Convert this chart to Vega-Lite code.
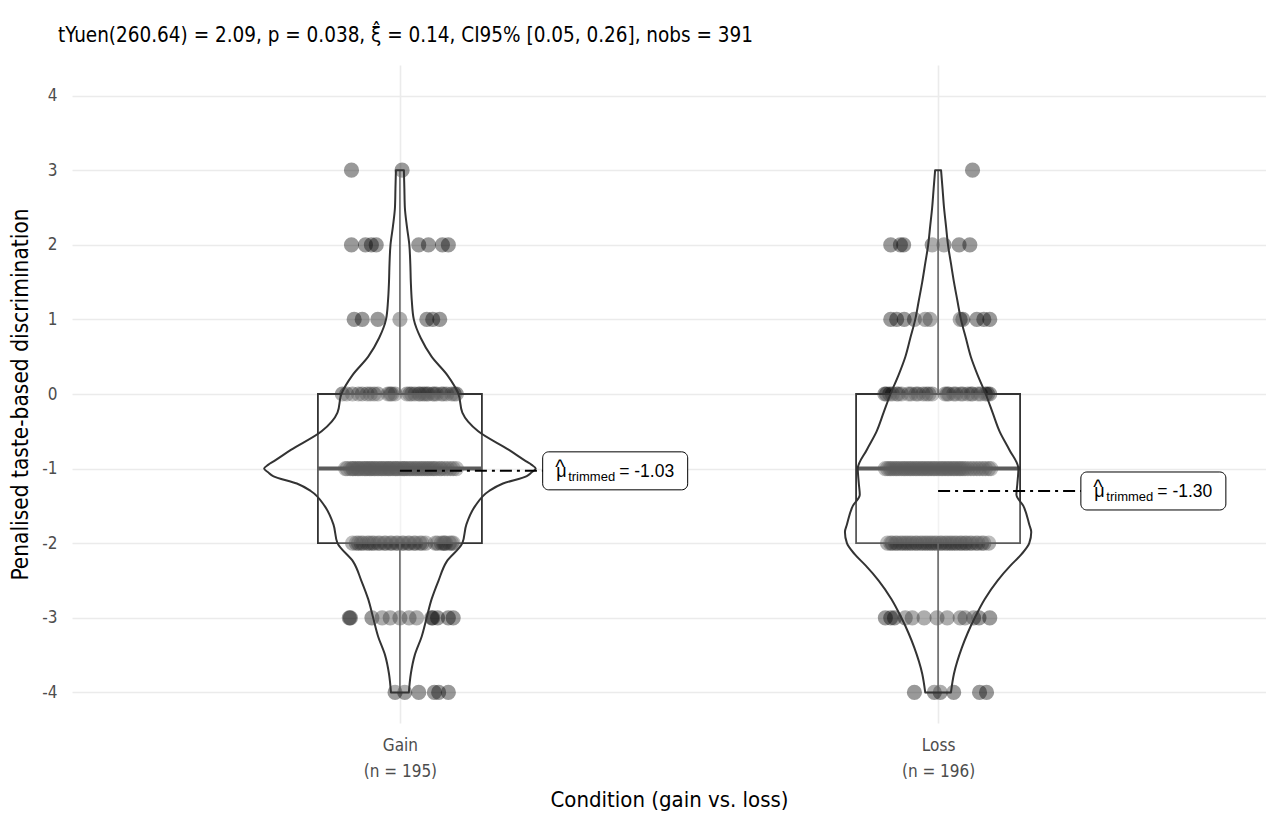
{
  "$schema": "https://vega.github.io/schema/vega-lite/v6.json",
  "autosize": {"type": "none"},
  "padding": {"left": 72, "top": 65, "right": 0, "bottom": 95},
  "width": 1194,
  "height": 658,
  "background": "white",
  "config": {
    "font": "Liberation Sans Narrow, DejaVu Sans Condensed, Roboto Condensed, sans-serif",
    "view": {"stroke": null},
    "axis": {"labelFont": "Liberation Sans Narrow, DejaVu Sans Condensed, sans-serif", "titleFont": "Liberation Sans Narrow, DejaVu Sans Condensed, sans-serif"}
  },
  "title": {
    "text": "tYuen(260.64) = 2.09, p = 0.038, ξ̂ = 0.14, CI95% [0.05, 0.26], nobs = 391",
    "anchor": "start",
    "frame": "group",
    "fontSize": 20.5,
    "fontWeight": "normal",
    "color": "#000000",
    "offset": 19,
    "dx": -14
  },
  "datasets": {
    "pts": [
      {"x":0.910,"y":3},{"x":1.004,"y":3},
      {"x":0.910,"y":2},{"x":0.936,"y":2},{"x":0.947,"y":2},{"x":0.956,"y":2},{"x":1.035,"y":2},{"x":1.053,"y":2},{"x":1.079,"y":2},{"x":1.090,"y":2},
      {"x":0.915,"y":1},{"x":0.930,"y":1},{"x":0.959,"y":1},{"x":1.000,"y":1},{"x":1.050,"y":1},{"x":1.061,"y":1},{"x":1.074,"y":1},
      {"x":0.893,"y":0},{"x":0.901,"y":0},{"x":0.912,"y":0},{"x":0.923,"y":0},{"x":0.930,"y":0},{"x":0.939,"y":0},{"x":0.945,"y":0},{"x":0.952,"y":0},
      {"x":0.959,"y":0},{"x":0.978,"y":0},{"x":0.982,"y":0},{"x":0.985,"y":0},{"x":0.991,"y":0},{"x":1.013,"y":0},{"x":1.018,"y":0},{"x":1.022,"y":0},{"x":1.028,"y":0},
      {"x":1.035,"y":0},{"x":1.037,"y":0},{"x":1.042,"y":0},{"x":1.046,"y":0},{"x":1.050,"y":0},{"x":1.053,"y":0},
      {"x":1.061,"y":0},{"x":1.064,"y":0},{"x":1.068,"y":0},{"x":1.077,"y":0},{"x":1.081,"y":0},{"x":1.087,"y":0},
      {"x":1.096,"y":0},{"x":1.101,"y":0},{"x":1.105,"y":0},
      {"x":0.899,"y":-1},{"x":0.902,"y":-1},{"x":0.908,"y":-1},{"x":0.912,"y":-1},{"x":0.913,"y":-1},{"x":0.917,"y":-1},{"x":0.921,"y":-1},{"x":0.923,"y":-1},{"x":0.926,"y":-1},{"x":0.930,"y":-1},
      {"x":0.934,"y":-1},{"x":0.936,"y":-1},{"x":0.939,"y":-1},{"x":0.943,"y":-1},{"x":0.945,"y":-1},{"x":0.948,"y":-1},{"x":0.952,"y":-1},{"x":0.954,"y":-1},{"x":0.958,"y":-1},{"x":0.961,"y":-1},
      {"x":0.965,"y":-1},{"x":0.967,"y":-1},{"x":0.971,"y":-1},{"x":0.974,"y":-1},{"x":0.978,"y":-1},{"x":0.980,"y":-1},{"x":0.983,"y":-1},{"x":0.987,"y":-1},{"x":0.991,"y":-1},{"x":0.993,"y":-1},
      {"x":0.996,"y":-1},{"x":1.000,"y":-1},{"x":1.004,"y":-1},{"x":1.007,"y":-1},{"x":1.009,"y":-1},{"x":1.013,"y":-1},{"x":1.017,"y":-1},{"x":1.020,"y":-1},{"x":1.024,"y":-1},{"x":1.028,"y":-1},
      {"x":1.031,"y":-1},{"x":1.035,"y":-1},{"x":1.039,"y":-1},{"x":1.042,"y":-1},{"x":1.046,"y":-1},{"x":1.050,"y":-1},{"x":1.053,"y":-1},{"x":1.057,"y":-1},{"x":1.061,"y":-1},{"x":1.064,"y":-1},
      {"x":1.068,"y":-1},{"x":1.074,"y":-1},{"x":1.077,"y":-1},{"x":1.083,"y":-1},{"x":1.088,"y":-1},{"x":1.094,"y":-1},{"x":1.099,"y":-1},{"x":1.105,"y":-1},
      {"x":0.912,"y":-2},{"x":0.919,"y":-2},{"x":0.923,"y":-2},{"x":0.928,"y":-2},{"x":0.932,"y":-2},{"x":0.939,"y":-2},{"x":0.943,"y":-2},
      {"x":0.948,"y":-2},{"x":0.952,"y":-2},{"x":0.959,"y":-2},{"x":0.963,"y":-2},{"x":0.971,"y":-2},{"x":0.974,"y":-2},
      {"x":0.982,"y":-2},{"x":0.985,"y":-2},{"x":0.993,"y":-2},{"x":0.996,"y":-2},{"x":1.004,"y":-2},{"x":1.007,"y":-2},{"x":1.015,"y":-2},
      {"x":1.018,"y":-2},{"x":1.026,"y":-2},{"x":1.029,"y":-2},{"x":1.037,"y":-2},{"x":1.041,"y":-2},{"x":1.048,"y":-2},{"x":1.066,"y":-2},
      {"x":1.070,"y":-2},{"x":1.077,"y":-2},{"x":1.081,"y":-2},{"x":1.085,"y":-2},{"x":1.092,"y":-2},{"x":1.096,"y":-2},{"x":1.099,"y":-2},{"x":1.083,"y":-2},
      {"x":0.906,"y":-3},{"x":0.908,"y":-3},{"x":0.948,"y":-3},{"x":0.967,"y":-3},{"x":0.982,"y":-3},{"x":1.000,"y":-3},{"x":1.017,"y":-3},{"x":1.031,"y":-3},{"x":1.059,"y":-3},{"x":1.061,"y":-3},
      {"x":1.090,"y":-3},{"x":1.099,"y":-3},{"x":1.070,"y":-3},
      {"x":0.991,"y":-4},{"x":1.009,"y":-4},{"x":1.035,"y":-4},{"x":1.064,"y":-4},{"x":1.072,"y":-4},{"x":1.090,"y":-4},
      {"x":2.064,"y":3},
      {"x":1.912,"y":2},{"x":1.930,"y":2},{"x":1.936,"y":2},{"x":1.989,"y":2},{"x":2.011,"y":2},{"x":2.039,"y":2},{"x":2.059,"y":2},
      {"x":1.912,"y":1},{"x":1.923,"y":1},{"x":1.937,"y":1},{"x":1.956,"y":1},{"x":1.976,"y":1},{"x":1.985,"y":1},{"x":2.041,"y":1},{"x":2.046,"y":1},{"x":2.072,"y":1},{"x":2.085,"y":1},{"x":2.096,"y":1},
      {"x":1.901,"y":0},{"x":1.904,"y":0},{"x":1.910,"y":0},{"x":1.915,"y":0},{"x":1.923,"y":0},{"x":1.926,"y":0},{"x":1.932,"y":0},{"x":1.945,"y":0},{"x":1.950,"y":0},
      {"x":1.959,"y":0},{"x":1.963,"y":0},{"x":1.972,"y":0},{"x":1.978,"y":0},{"x":1.983,"y":0},{"x":1.989,"y":0},{"x":2.013,"y":0},{"x":2.017,"y":0},
      {"x":2.020,"y":0},{"x":2.029,"y":0},{"x":2.033,"y":0},{"x":2.042,"y":0},{"x":2.046,"y":0},{"x":2.055,"y":0},{"x":2.061,"y":0},
      {"x":2.064,"y":0},{"x":2.074,"y":0},{"x":2.079,"y":0},{"x":2.088,"y":0},{"x":2.092,"y":0},{"x":2.096,"y":0},
      {"x":1.902,"y":-1},{"x":1.906,"y":-1},{"x":1.910,"y":-1},{"x":1.913,"y":-1},{"x":1.917,"y":-1},{"x":1.921,"y":-1},{"x":1.924,"y":-1},{"x":1.928,"y":-1},{"x":1.932,"y":-1},{"x":1.936,"y":-1},
      {"x":1.939,"y":-1},{"x":1.943,"y":-1},{"x":1.947,"y":-1},{"x":1.950,"y":-1},{"x":1.954,"y":-1},{"x":1.958,"y":-1},{"x":1.961,"y":-1},{"x":1.965,"y":-1},{"x":1.969,"y":-1},{"x":1.972,"y":-1},
      {"x":1.976,"y":-1},{"x":1.980,"y":-1},{"x":1.983,"y":-1},{"x":1.987,"y":-1},{"x":1.991,"y":-1},{"x":1.994,"y":-1},{"x":1.998,"y":-1},{"x":2.002,"y":-1},{"x":2.006,"y":-1},{"x":2.009,"y":-1},
      {"x":2.013,"y":-1},{"x":2.017,"y":-1},{"x":2.020,"y":-1},{"x":2.024,"y":-1},{"x":2.028,"y":-1},{"x":2.031,"y":-1},{"x":2.035,"y":-1},{"x":2.039,"y":-1},{"x":2.042,"y":-1},{"x":2.046,"y":-1},
      {"x":2.050,"y":-1},{"x":2.055,"y":-1},{"x":2.061,"y":-1},{"x":2.066,"y":-1},{"x":2.072,"y":-1},{"x":2.077,"y":-1},{"x":2.083,"y":-1},{"x":2.088,"y":-1},{"x":2.094,"y":-1},{"x":2.098,"y":-1},
      {"x":1.906,"y":-2},{"x":1.912,"y":-2},{"x":1.915,"y":-2},{"x":1.921,"y":-2},{"x":1.924,"y":-2},{"x":1.930,"y":-2},{"x":1.934,"y":-2},
      {"x":1.939,"y":-2},{"x":1.943,"y":-2},{"x":1.948,"y":-2},{"x":1.952,"y":-2},{"x":1.958,"y":-2},{"x":1.961,"y":-2},
      {"x":1.967,"y":-2},{"x":1.971,"y":-2},{"x":1.976,"y":-2},{"x":1.980,"y":-2},{"x":1.985,"y":-2},{"x":1.989,"y":-2},{"x":1.994,"y":-2},
      {"x":1.998,"y":-2},{"x":2.004,"y":-2},{"x":2.007,"y":-2},{"x":2.013,"y":-2},{"x":2.017,"y":-2},{"x":2.022,"y":-2},{"x":2.026,"y":-2},
      {"x":2.031,"y":-2},{"x":2.035,"y":-2},{"x":2.041,"y":-2},{"x":2.044,"y":-2},{"x":2.050,"y":-2},{"x":2.053,"y":-2},
      {"x":2.059,"y":-2},{"x":2.063,"y":-2},{"x":2.070,"y":-2},{"x":2.074,"y":-2},{"x":2.081,"y":-2},{"x":2.085,"y":-2},{"x":2.094,"y":-2},
      {"x":1.902,"y":-3},{"x":1.912,"y":-3},{"x":1.919,"y":-3},{"x":1.939,"y":-3},{"x":1.952,"y":-3},{"x":1.974,"y":-3},{"x":1.998,"y":-3},{"x":2.017,"y":-3},{"x":2.041,"y":-3},{"x":2.050,"y":-3},
      {"x":2.066,"y":-3},{"x":2.076,"y":-3},{"x":2.096,"y":-3},
      {"x":1.956,"y":-4},{"x":1.993,"y":-4},{"x":2.004,"y":-4},{"x":2.029,"y":-4},{"x":2.077,"y":-4},{"x":2.090,"y":-4}
    ],
    "box": [
      {"g":"Gain","x":1,"q1":-2,"q3":0,"med":-1,"lo":-4,"hi":3,"tm":-1.03,"lx":1.4,"lab":"= -1.03"},
      {"g":"Loss","x":2,"q1":-2,"q3":0,"med":-1,"lo":-4,"hi":3,"tm":-1.30,"lx":2.4,"lab":"= -1.30"}
    ],
    "vioG": [
      {"y":3,"lo":0.9926,"hi":1.0074},
      {"y":2.75,"lo":0.9917,"hi":1.0083},
      {"y":2.5,"lo":0.9908,"hi":1.0092},
      {"y":2.25,"lo":0.9871,"hi":1.0129},
      {"y":2,"lo":0.9825,"hi":1.0175},
      {"y":1.75,"lo":0.9807,"hi":1.0193},
      {"y":1.5,"lo":0.9797,"hi":1.0203},
      {"y":1.25,"lo":0.9779,"hi":1.0221},
      {"y":1,"lo":0.9742,"hi":1.0258},
      {"y":0.75,"lo":0.9613,"hi":1.0387},
      {"y":0.5,"lo":0.9411,"hi":1.0589},
      {"y":0.25,"lo":0.9116,"hi":1.0884},
      {"y":0,"lo":0.8913,"hi":1.1087},
      {"y":-0.25,"lo":0.8840,"hi":1.1160},
      {"y":-0.5,"lo":0.8545,"hi":1.1455},
      {"y":-0.75,"lo":0.7974,"hi":1.2026},
      {"y":-0.9,"lo":0.7661,"hi":1.2339},
      {"y":-0.95,"lo":0.7551,"hi":1.2449},
      {"y":-1,"lo":0.7477,"hi":1.2523},
      {"y":-1.05,"lo":0.7551,"hi":1.2449},
      {"y":-1.1,"lo":0.7643,"hi":1.2357},
      {"y":-1.2,"lo":0.8085,"hi":1.1915},
      {"y":-1.3,"lo":0.8343,"hi":1.1657},
      {"y":-1.5,"lo":0.8600,"hi":1.1400},
      {"y":-1.75,"lo":0.8766,"hi":1.1234},
      {"y":-2,"lo":0.8840,"hi":1.1160},
      {"y":-2.25,"lo":0.9134,"hi":1.0866},
      {"y":-2.5,"lo":0.9282,"hi":1.0718},
      {"y":-2.75,"lo":0.9411,"hi":1.0589},
      {"y":-3,"lo":0.9503,"hi":1.0497},
      {"y":-3.25,"lo":0.9595,"hi":1.0405},
      {"y":-3.5,"lo":0.9724,"hi":1.0276},
      {"y":-3.75,"lo":0.9797,"hi":1.0203},
      {"y":-4,"lo":0.9834,"hi":1.0166}
    ],
    "vioL": [
      {"y":3,"lo":1.9945,"hi":2.0055},
      {"y":2.75,"lo":1.9917,"hi":2.0083},
      {"y":2.5,"lo":1.9890,"hi":2.0110},
      {"y":2.25,"lo":1.9853,"hi":2.0147},
      {"y":2,"lo":1.9816,"hi":2.0184},
      {"y":1.75,"lo":1.9761,"hi":2.0239},
      {"y":1.5,"lo":1.9705,"hi":2.0295},
      {"y":1.25,"lo":1.9641,"hi":2.0359},
      {"y":1,"lo":1.9576,"hi":2.0424},
      {"y":0.75,"lo":1.9484,"hi":2.0516},
      {"y":0.5,"lo":1.9392,"hi":2.0608},
      {"y":0.25,"lo":1.9263,"hi":2.0737},
      {"y":0,"lo":1.9116,"hi":2.0884},
      {"y":-0.25,"lo":1.8987,"hi":2.1013},
      {"y":-0.5,"lo":1.8858,"hi":2.1142},
      {"y":-0.75,"lo":1.8674,"hi":2.1326},
      {"y":-1,"lo":1.8508,"hi":2.1492},
      {"y":-1.2,"lo":1.8527,"hi":2.1473},
      {"y":-1.35,"lo":1.8545,"hi":2.1455},
      {"y":-1.5,"lo":1.8416,"hi":2.1584},
      {"y":-1.75,"lo":1.8306,"hi":2.1694},
      {"y":-1.85,"lo":1.8269,"hi":2.1731},
      {"y":-2,"lo":1.8306,"hi":2.1694},
      {"y":-2.15,"lo":1.8453,"hi":2.1547},
      {"y":-2.3,"lo":1.8656,"hi":2.1344},
      {"y":-2.5,"lo":1.8895,"hi":2.1105},
      {"y":-2.75,"lo":1.9134,"hi":2.0866},
      {"y":-3,"lo":1.9319,"hi":2.0681},
      {"y":-3.2,"lo":1.9448,"hi":2.0552},
      {"y":-3.4,"lo":1.9558,"hi":2.0442},
      {"y":-3.75,"lo":1.9705,"hi":2.0295},
      {"y":-4,"lo":1.9761,"hi":2.0239}
    ]
  },
  "layer": [
    {
      "data": {"name": "pts"},
      "mark": {"type": "circle", "color": "#000000", "opacity": 0.4, "size": 230, "strokeWidth": 0},
      "encoding": {
        "x": {"field": "x", "type": "quantitative",
          "scale": {"domain": [0.4, 2.6], "nice": false, "zero": false},
          "axis": {"values": [1, 2], "labelExpr": "datum.value == 1 ? ['Gain', '(n = 195)'] : ['Loss', '(n = 196)']",
            "title": "Condition (gain vs. loss)", "grid": true, "gridColor": "#ebebeb", "gridWidth": 1.6,
            "domain": false, "ticks": false, "labelFontSize": 17, "labelColor": "#4d4d4d", "labelPadding": 14,
            "labelLineHeight": 26, "labelBaseline": "top", "titleFontSize": 22, "titleFontWeight": "normal", "titleColor": "#000000", "titlePadding": 10}},
        "y": {"field": "y", "type": "quantitative",
          "scale": {"domain": [-4.41, 4.41], "nice": false, "zero": false},
          "axis": {"values": [-4, -3, -2, -1, 0, 1, 2, 3, 4], "labelExpr": "'' + datum.value",
            "title": "Penalised taste-based discrimination", "grid": true, "gridColor": "#ebebeb", "gridWidth": 1.6,
            "domain": false, "ticks": false, "labelFontSize": 17, "labelColor": "#4d4d4d", "labelPadding": 15,
            "titleFontSize": 22.5, "titleFontWeight": "normal", "titleColor": "#000000", "titlePadding": 9}}
      }
    },
    {
      "data": {"name": "box"},
      "mark": {"type": "bar", "orient": "vertical", "width": 164, "fill": "#ffffff", "fillOpacity": 0.2, "stroke": "#333333", "strokeWidth": 1.8},
      "encoding": {
        "x": {"field": "x", "type": "quantitative", "scale": {"domain": [0.4, 2.6], "nice": false, "zero": false}},
        "y": {"field": "q3", "type": "quantitative", "scale": {"domain": [-4.41, 4.41], "nice": false, "zero": false}},
        "y2": {"field": "q1"}
      }
    },
    {
      "data": {"name": "box"},
      "mark": {"type": "rule", "color": "#404040", "strokeWidth": 1.6},
      "encoding": {
        "x": {"field": "x", "type": "quantitative", "scale": {"domain": [0.4, 2.6], "nice": false, "zero": false}},
        "y": {"field": "hi", "type": "quantitative", "scale": {"domain": [-4.41, 4.41], "nice": false, "zero": false}},
        "y2": {"field": "q3"}
      }
    },
    {
      "data": {"name": "box"},
      "mark": {"type": "rule", "color": "#404040", "strokeWidth": 1.6},
      "encoding": {
        "x": {"field": "x", "type": "quantitative", "scale": {"domain": [0.4, 2.6], "nice": false, "zero": false}},
        "y": {"field": "q1", "type": "quantitative", "scale": {"domain": [-4.41, 4.41], "nice": false, "zero": false}},
        "y2": {"field": "lo"}
      }
    },
    {
      "data": {"name": "box"},
      "mark": {"type": "tick", "orient": "horizontal", "size": 164, "thickness": 4, "color": "#333333", "opacity": 1},
      "encoding": {
        "x": {"field": "x", "type": "quantitative", "scale": {"domain": [0.4, 2.6], "nice": false, "zero": false}},
        "y": {"field": "med", "type": "quantitative", "scale": {"domain": [-4.41, 4.41], "nice": false, "zero": false}}
      }
    },
    {
      "data": {"name": "vioG"},
      "mark": {"type": "area", "orient": "horizontal", "interpolate": "monotone", "fill": "#ffffff", "fillOpacity": 0.2, "stroke": "#333333", "strokeWidth": 2, "strokeJoin": "round"},
      "encoding": {
        "y": {"field": "y", "type": "quantitative", "scale": {"domain": [-4.41, 4.41], "nice": false, "zero": false}},
        "x": {"field": "lo", "type": "quantitative", "scale": {"domain": [0.4, 2.6], "nice": false, "zero": false}},
        "x2": {"field": "hi"}
      }
    },
    {
      "data": {"name": "vioL"},
      "mark": {"type": "area", "orient": "horizontal", "interpolate": "monotone", "fill": "#ffffff", "fillOpacity": 0.2, "stroke": "#333333", "strokeWidth": 2, "strokeJoin": "round"},
      "encoding": {
        "y": {"field": "y", "type": "quantitative", "scale": {"domain": [-4.41, 4.41], "nice": false, "zero": false}},
        "x": {"field": "lo", "type": "quantitative", "scale": {"domain": [0.4, 2.6], "nice": false, "zero": false}},
        "x2": {"field": "hi"}
      }
    },
    {
      "data": {"name": "box"},
      "mark": {"type": "rule", "color": "#000000", "strokeWidth": 2, "strokeDash": [12, 5, 3, 5]},
      "encoding": {
        "x": {"field": "x", "type": "quantitative", "scale": {"domain": [0.4, 2.6], "nice": false, "zero": false}},
        "x2": {"field": "lx"},
        "y": {"field": "tm", "type": "quantitative", "scale": {"domain": [-4.41, 4.41], "nice": false, "zero": false}}
      }
    },
    {
      "data": {"name": "box"},
      "mark": {"type": "point", "filled": true, "fill": "#ffffff", "stroke": "#000000", "strokeWidth": 1, "opacity": 1, "size": 21025,
        "shape": "M-0.917,-0.262 L0.917,-0.262 A0.083,0.083 0 0 1 1,-0.179 L1,0.179 A0.083,0.083 0 0 1 0.917,0.262 L-0.917,0.262 A0.083,0.083 0 0 1 -1,0.179 L-1,-0.179 A0.083,0.083 0 0 1 -0.917,-0.262 Z"},
      "encoding": {
        "x": {"field": "lx", "type": "quantitative", "scale": {"domain": [0.4, 2.6], "nice": false, "zero": false}},
        "y": {"field": "tm", "type": "quantitative", "scale": {"domain": [-4.41, 4.41], "nice": false, "zero": false}}
      }
    },
    {
      "data": {"name": "box"},
      "mark": {"type": "text", "text": "μ", "align": "left", "baseline": "alphabetic", "dx": -59, "dy": 6, "fontSize": 18, "font": "Liberation Sans, Arial, sans-serif", "color": "#000000"},
      "encoding": {
        "x": {"field": "lx", "type": "quantitative", "scale": {"domain": [0.4, 2.6], "nice": false, "zero": false}},
        "y": {"field": "tm", "type": "quantitative", "scale": {"domain": [-4.41, 4.41], "nice": false, "zero": false}}
      }
    },
    {
      "data": {"name": "box"},
      "mark": {"type": "text", "text": "^", "align": "left", "baseline": "alphabetic", "dx": -60, "dy": 3.5, "fontSize": 20, "font": "Liberation Sans, Arial, sans-serif", "color": "#000000"},
      "encoding": {
        "x": {"field": "lx", "type": "quantitative", "scale": {"domain": [0.4, 2.6], "nice": false, "zero": false}},
        "y": {"field": "tm", "type": "quantitative", "scale": {"domain": [-4.41, 4.41], "nice": false, "zero": false}}
      }
    },
    {
      "data": {"name": "box"},
      "mark": {"type": "text", "text": "trimmed", "align": "left", "baseline": "alphabetic", "dx": -47, "dy": 10, "fontSize": 13, "font": "Liberation Sans, Arial, sans-serif", "color": "#000000"},
      "encoding": {
        "x": {"field": "lx", "type": "quantitative", "scale": {"domain": [0.4, 2.6], "nice": false, "zero": false}},
        "y": {"field": "tm", "type": "quantitative", "scale": {"domain": [-4.41, 4.41], "nice": false, "zero": false}}
      }
    },
    {
      "data": {"name": "box"},
      "mark": {"type": "text", "align": "left", "baseline": "alphabetic", "dx": 4, "dy": 6, "fontSize": 17.5, "font": "Liberation Sans, Arial, sans-serif", "color": "#000000"},
      "encoding": {
        "x": {"field": "lx", "type": "quantitative", "scale": {"domain": [0.4, 2.6], "nice": false, "zero": false}},
        "y": {"field": "tm", "type": "quantitative", "scale": {"domain": [-4.41, 4.41], "nice": false, "zero": false}},
        "text": {"field": "lab"}
      }
    }
  ]
}
